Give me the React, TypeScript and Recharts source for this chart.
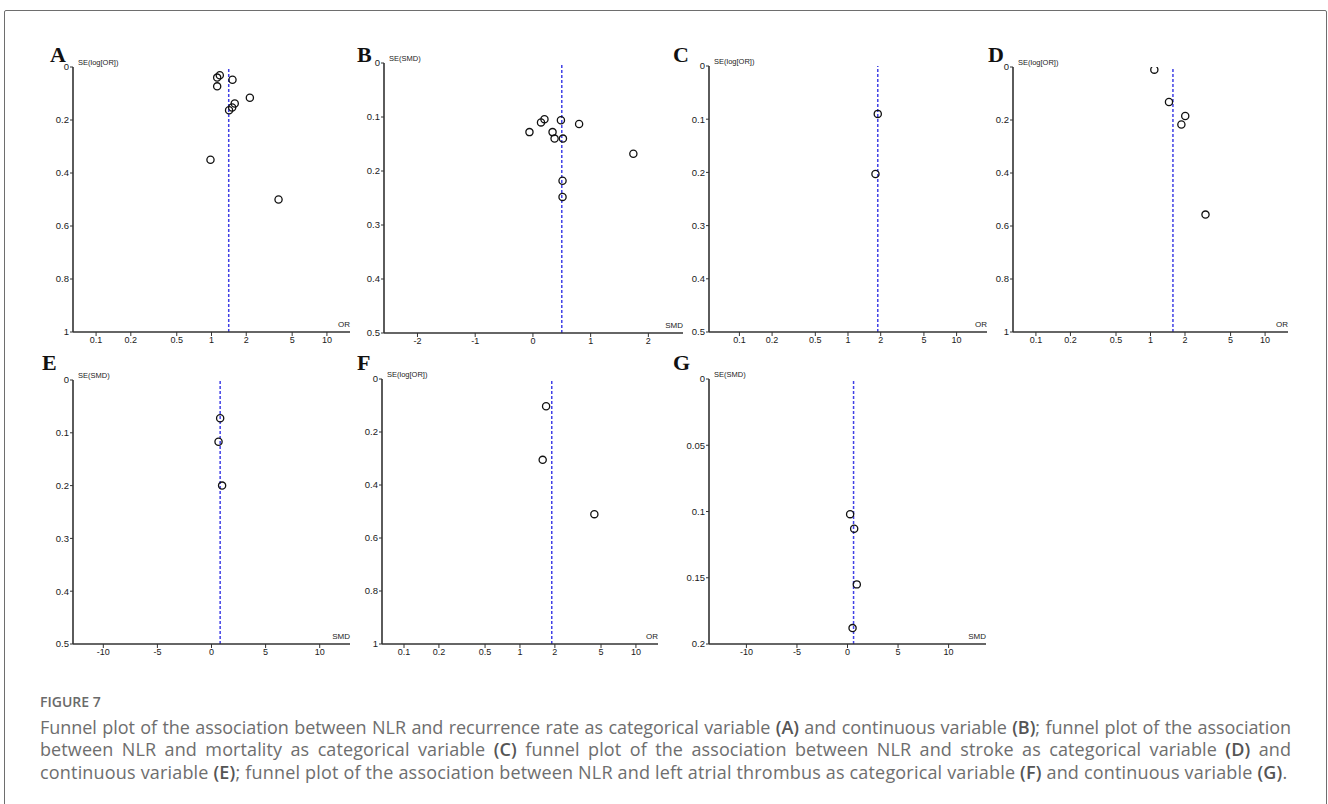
import { ScatterChart, Scatter, XAxis, YAxis, ReferenceLine } from "recharts";

// --- data ---
const orTicks = [0.1, 0.2, 0.5, 1, 2, 5, 10];
const smdTicksB = [-2, -1, 0, 1, 2];
const smdTicksWide = [-10, -5, 0, 5, 10];
const seTicksOne = [0, 0.2, 0.4, 0.6, 0.8, 1];
const seTicksHalf = [0, 0.1, 0.2, 0.3, 0.4, 0.5];
const seTicksFifth = [0, 0.05, 0.1, 0.15, 0.2];

const aOR = [1.12, 1.18, 1.52, 1.12, 2.15, 1.59, 1.51, 1.42, 0.98, 3.81];
const aSE = [0.04, 0.031, 0.048, 0.073, 0.116, 0.138, 0.153, 0.163, 0.35, 0.5];
const aPooled = 1.41;

const bSMD = [-0.06, 0.14, 0.2, 0.485, 0.8, 0.34, 0.375, 0.52, 1.74, 0.513, 0.513];
const bSE = [0.128, 0.11, 0.104, 0.106, 0.113, 0.128, 0.14, 0.14, 0.168, 0.218, 0.248];
const bPooled = 0.5;

const cOR = [1.88, 1.79];
const cSE = [0.09, 0.203];
const cPooled = 1.88;

const dOR = [1.08, 1.45, 2.01, 1.86, 3.02];
const dSE = [0.01, 0.132, 0.185, 0.217, 0.557];
const dPooled = 1.57;

const eSMD = [0.8, 0.65, 0.98];
const eSE = [0.0725, 0.117, 0.2];
const ePooled = 0.8;

const fOR = [1.68, 1.57, 4.38];
const fSE = [0.103, 0.305, 0.51];
const fPooled = 1.88;

const gSMD = [0.26, 0.66, 0.92, 0.5];
const gSE = [0.102, 0.113, 0.155, 0.188];
const gPooled = 0.6;

const NARROW = "'Liberation Sans Narrow', 'Arial Narrow', 'Liberation Sans', Arial, sans-serif";
const AXIS = "#333";

type Panel = {
  label: string;
  labelX: number;
  labelY: number;
  left: number;
  top: number;
  right: number;
  bottom: number;
  xs: number[];
  ses: number[];
  pooled: number;
  log: boolean;
  xDomain: [number, number];
  xTicks: number[];
  yMax: number;
  yTicks: number[];
  xName: string;
  yName: string;
};

const panels: Panel[] = [
  { label: "A", labelX: 50, labelY: 44, left: 73, top: 67, right: 350, bottom: 332, xs: aOR, ses: aSE, pooled: aPooled, log: true, xDomain: [0.0631, 15.85], xTicks: orTicks, yMax: 1, yTicks: seTicksOne, xName: "OR", yName: "SE(log[OR])" },
  { label: "B", labelX: 357, labelY: 44, left: 384, top: 63, right: 683, bottom: 333, xs: bSMD, ses: bSE, pooled: bPooled, log: false, xDomain: [-2.58, 2.6], xTicks: smdTicksB, yMax: 0.5, yTicks: seTicksHalf, xName: "SMD", yName: "SE(SMD)" },
  { label: "C", labelX: 673, labelY: 44, left: 709, top: 66, right: 987, bottom: 332, xs: cOR, ses: cSE, pooled: cPooled, log: true, xDomain: [0.0525, 19.05], xTicks: orTicks, yMax: 0.5, yTicks: seTicksHalf, xName: "OR", yName: "SE(log[OR])" },
  { label: "D", labelX: 988, labelY: 44, left: 1013, top: 67, right: 1288, bottom: 332, xs: dOR, ses: dSE, pooled: dPooled, log: true, xDomain: [0.0631, 15.85], xTicks: orTicks, yMax: 1, yTicks: seTicksOne, xName: "OR", yName: "SE(log[OR])" },
  { label: "E", labelX: 42, labelY: 352, left: 73, top: 380, right: 350, bottom: 644, xs: eSMD, ses: eSE, pooled: ePooled, log: false, xDomain: [-12.8, 12.8], xTicks: smdTicksWide, yMax: 0.5, yTicks: seTicksHalf, xName: "SMD", yName: "SE(SMD)" },
  { label: "F", labelX: 357, labelY: 352, left: 382, top: 379, right: 658, bottom: 644, xs: fOR, ses: fSE, pooled: fPooled, log: true, xDomain: [0.0646, 15.5], xTicks: orTicks, yMax: 1, yTicks: seTicksOne, xName: "OR", yName: "SE(log[OR])" },
  { label: "G", labelX: 673, labelY: 352, left: 709, top: 379, right: 986, bottom: 644, xs: gSMD, ses: gSE, pooled: gPooled, log: false, xDomain: [-13.7, 13.7], xTicks: smdTicksWide, yMax: 0.2, yTicks: seTicksFifth, xName: "SMD", yName: "SE(SMD)" },
];

const PAD_L = 40;
const PAD_T = 20;
const PAD_R = 20;
const PAD_B = 30;

function OpenCircle(props: any) {
  const { cx, cy } = props;
  if (cx == null || cy == null) return null;
  return <circle cx={cx} cy={cy} r={3.6} fill="none" stroke="#111" strokeWidth={1.3} />;
}

function FunnelPanel({ p }: { p: Panel }) {
  const w = p.right - p.left;
  const h = p.bottom - p.top;
  const data = p.xs.map((x, i) => ({ x, y: p.ses[i] }));
  return (
    <>
      <div
        style={{
          position: "absolute",
          left: p.labelX,
          top: p.labelY,
          fontFamily: "'Liberation Serif', 'Times New Roman', serif",
          fontWeight: 700,
          fontSize: 22,
          lineHeight: "22px",
          color: "#111",
        }}
      >
        {p.label}
      </div>
      <div style={{ position: "absolute", left: p.left - PAD_L, top: p.top - PAD_T }}>
        <ScatterChart
          width={w + PAD_L + PAD_R}
          height={h + PAD_T + PAD_B}
          margin={{ top: PAD_T, right: PAD_R, bottom: 0, left: 0 }}
        >
          <XAxis
            type="number"
            dataKey="x"
            scale={p.log ? "log" : "linear"}
            domain={p.xDomain}
            ticks={p.xTicks}
            allowDataOverflow
            interval={0}
            height={PAD_B}
            tickSize={4}
            tickMargin={1}
            axisLine={{ stroke: AXIS, strokeWidth: 1.6 }}
            tickLine={{ stroke: AXIS, strokeWidth: 1 }}
            tick={{ fontSize: 9, fill: "#1a1a1a", fontFamily: NARROW }}
          />
          <YAxis
            type="number"
            dataKey="y"
            reversed
            domain={[0, p.yMax]}
            ticks={p.yTicks}
            allowDataOverflow
            interval={0}
            width={PAD_L}
            tickSize={3}
            tickMargin={1}
            axisLine={{ stroke: AXIS, strokeWidth: 1.6 }}
            tickLine={{ stroke: AXIS, strokeWidth: 1 }}
            tick={{ fontSize: 9.5, fill: "#1a1a1a", fontFamily: NARROW }}
          />
          <ReferenceLine x={p.pooled} stroke="#4040e6" strokeWidth={1.5} strokeDasharray="3 2" />
          <Scatter data={data} shape={OpenCircle} isAnimationActive={false} />
        </ScatterChart>
      </div>
      <div
        style={{
          position: "absolute",
          left: p.left + 5,
          top: p.top - 8,
          fontFamily: NARROW,
          fontSize: 7.5,
          lineHeight: "8px",
          color: "#222",
          whiteSpace: "nowrap",
        }}
      >
        {p.yName}
      </div>
      <div
        style={{
          position: "absolute",
          left: p.right - 40,
          width: 40,
          textAlign: "right",
          top: p.bottom - 11,
          fontFamily: NARROW,
          fontSize: 8,
          lineHeight: "8px",
          color: "#222",
        }}
      >
        {p.xName}
      </div>
    </>
  );
}

const B = ({ children }: { children: string }) => (
  <span style={{ fontWeight: 600, color: "#555" }}>{children}</span>
);

export default function App() {
  const lineStyle: React.CSSProperties = {
    width: 1251,
    whiteSpace: "nowrap",
    textAlign: "justify",
    textAlignLast: "justify",
    height: 22.5,
  };
  return (
    <div
      style={{
        position: "absolute",
        left: 0,
        top: 0,
        width: 1328,
        height: 804,
        overflow: "hidden",
        background: "#fff",
      }}
    >
      <div
        style={{
          position: "absolute",
          left: 4,
          top: 10,
          width: 1321,
          height: 820,
          border: "1.5px solid #6e6e6e",
          borderRadius: 2,
        }}
      />
      {panels.map((p) => (
        <FunnelPanel key={p.label} p={p} />
      ))}
      <div
        style={{
          position: "absolute",
          left: 40,
          top: 692,
          fontFamily: "'Open Sans', 'Noto Sans', sans-serif",
          fontWeight: 600,
          fontSize: 14,
          lineHeight: "20px",
          color: "#6a6a6a",
        }}
      >
        FIGURE 7
      </div>
      <div
        style={{
          position: "absolute",
          left: 40,
          top: 715.5,
          fontFamily: "'Open Sans', 'Noto Sans', sans-serif",
          fontSize: 18,
          lineHeight: "22.5px",
          color: "#6e6e6e",
        }}
      >
        <div style={{ ...lineStyle, letterSpacing: -0.05 }}>
          Funnel plot of the association between NLR and recurrence rate as categorical variable <B>(A)</B> and continuous variable <B>(B)</B>; funnel plot of the association
        </div>
        <div style={{ ...lineStyle, letterSpacing: 0.1 }}>
          between NLR and mortality as categorical variable <B>(C)</B> funnel plot of the association between NLR and stroke as categorical variable <B>(D)</B> and
        </div>
        <div style={{ whiteSpace: "nowrap", height: 22.5, letterSpacing: 0.18 }}>
          continuous variable <B>(E)</B>; funnel plot of the association between NLR and left atrial thrombus as categorical variable <B>(F)</B> and continuous variable <B>(G)</B>.
        </div>
      </div>
    </div>
  );
}
